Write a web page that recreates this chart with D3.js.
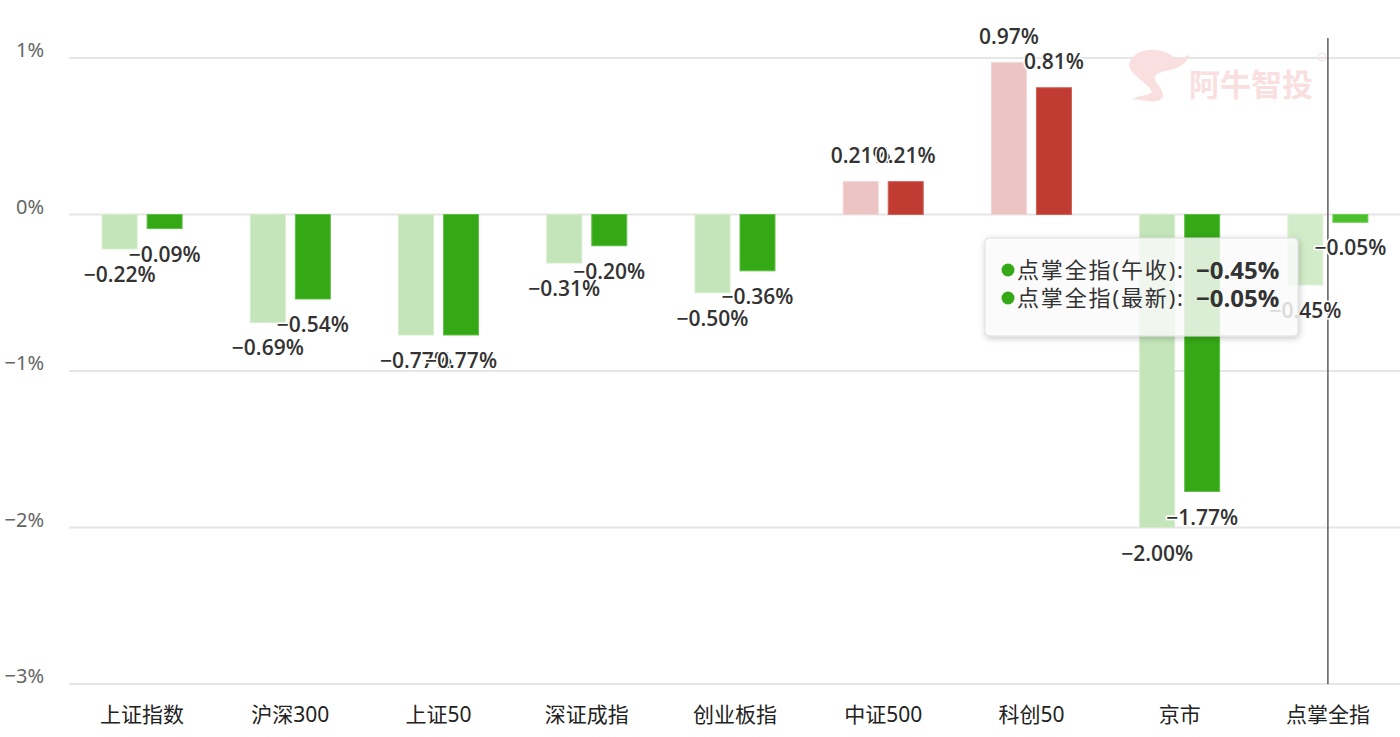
<!DOCTYPE html>
<html><head><meta charset="utf-8">
<script src="https://cdn.jsdelivr.net/npm/d3@7"></script>
<style>
html,body{margin:0;padding:0;background:#fff;}
svg{display:block;}
</style></head>
<body>
<svg id="chart" width="1400" height="737"></svg>
<script>
const categories = ["上证指数","沪深300","上证50","深证成指","创业板指","中证500","科创50","京市","点掌全指"];
const seriesNames = ["点掌全指(午收)","点掌全指(最新)"];
const noonValues = [-0.22,-0.69,-0.77,-0.31,-0.50,0.21,0.97,-2.00,-0.45];
const latestValues = [-0.09,-0.54,-0.77,-0.20,-0.36,0.21,0.81,-1.77,-0.05];
const yTicks = [1,0,-1,-2,-3];
const hoverIndex = 8;

const svg = d3.select("#chart");
const W = 1400, H = 737;
const plot = {left:68, right:1402, top:58, bottom:684};

const x = d3.scaleBand().domain(categories).range([plot.left, plot.right]);
const xs = d3.scaleBand().domain([0,1]).range([-40,40]).paddingInner(10/45).paddingOuter(0);
const y = d3.scaleLinear().domain([-3,1]).range([plot.bottom, plot.top]);

const font = "'Noto Sans','Noto Sans CJK SC',sans-serif";
const labelFont = "'Open Sans','Noto Sans',sans-serif";

// grid
const gridG = svg.append("g");
gridG.selectAll("line").data(yTicks).join("line")
  .attr("x1", 69).attr("x2", W)
  .attr("y1", d=>y(d)).attr("y2", d=>y(d))
  .attr("stroke", "#e6e6e6").attr("stroke-width", 2);

// y axis labels via d3 axis
const yAxis = d3.axisLeft(y).tickValues(yTicks).tickSize(0).tickPadding(0).tickFormat(d=>(d<0?"\u2212":"")+Math.abs(d)+"%");
const yg = svg.append("g").attr("transform","translate(44,0)").call(yAxis);
yg.select(".domain").remove();
yg.selectAll("text").attr("font-family", font).attr("font-size", 20).attr("fill","#666").attr("dy","-0.06em");

// watermark
const wmc = "#f9dfdf";
const wm = svg.append("g").attr("fill",wmc);
wm.append("path").attr("d","M1130,62 C1135,48 1160,46 1172,56 C1178,60 1186,58 1190,54 C1188,62 1180,68 1170,70 C1160,72 1152,74 1156,82 C1162,90 1166,96 1160,100 C1150,104 1140,98 1132,100 C1140,94 1150,96 1152,92 C1150,86 1140,80 1134,74 C1130,70 1128,66 1130,62 Z");
wm.append("text").attr("x",1189).attr("y",96).attr("font-family",font).attr("font-weight","bold").attr("font-size",31).text("阿牛智投");
wm.append("circle").attr("cx",1322).attr("cy",57).attr("r",4).attr("fill","none").attr("stroke",wmc).attr("stroke-width",1);

// bars
const colorSets = {
  neg:[{fill:"#c4e5b9",stroke:"#d4edcb"},{fill:"#34a915",stroke:"#62c04a"}],
  pos:[{fill:"#ecc4c3",stroke:"#f2d4d3"},{fill:"#c03b31",stroke:"#d0625a"}],
  hover:[{fill:"#d2ecc9",stroke:"#ddf1d6"},{fill:"#4cbf2c",stroke:"#6fcf55"}]
};
const allSeries = [noonValues, latestValues];
const barsG = svg.append("g");
allSeries.forEach((vals, si)=>{
  barsG.append("g").selectAll("rect").data(vals.map((v,i)=>({v,i}))).join("rect")
    .attr("x", d=>x(categories[d.i]) + x.bandwidth()/2 + xs(si))
    .attr("width", xs.bandwidth())
    .attr("y", d=>Math.min(y(d.v), y(0)))
    .attr("height", d=>Math.abs(y(d.v)-y(0)))
    .attr("fill", d=>(d.i===hoverIndex?colorSets.hover:(d.v>=0?colorSets.pos:colorSets.neg))[si].fill)
    .attr("stroke", d=>(d.i===hoverIndex?colorSets.hover:(d.v>=0?colorSets.pos:colorSets.neg))[si].stroke)
    .attr("stroke-width", 1);
});

// hover line
const hx = x(categories[hoverIndex])+x.bandwidth()/2;
svg.append("line")
  .attr("x1", hx).attr("x2", hx)
  .attr("y1", 38).attr("y2", plot.bottom)
  .attr("stroke","#666").attr("stroke-width",1.6);

// labels
const fmt = v => (v<0?"\u2212":"") + Math.abs(v).toFixed(2) + "%";
allSeries.forEach((vals, si)=>{
  svg.append("g").selectAll("text").data(vals.map((v,i)=>({v,i}))).join("text")
    .attr("x", d=>x(categories[d.i]) + x.bandwidth()/2 + xs(si) + xs.bandwidth()/2)
    .attr("y", d=>y(d.v) + (d.v>=0 ? -27 : 25))
    .attr("text-anchor","middle").attr("dominant-baseline","central")
    .attr("font-family", labelFont).attr("font-size", 21).attr("font-weight", 600)
    .attr("fill","#333").attr("stroke","#fff").attr("stroke-width",3).attr("paint-order","stroke")
    .text(d=>fmt(d.v));
});

// x axis labels
const xAxis = d3.axisBottom(x).tickSize(0).tickPadding(0);
const xg = svg.append("g").attr("transform",`translate(0,${715})`).call(xAxis);
xg.select(".domain").remove();
xg.selectAll("text").attr("font-family", font).attr("font-size", 21).attr("fill","#222").attr("dy","0.32em").attr("y",0);

// tooltip
const tt = svg.append("g");
const defs = svg.append("defs");
const f = defs.append("filter").attr("id","sh").attr("x","-10%").attr("y","-20%").attr("width","120%").attr("height","150%");
f.append("feDropShadow").attr("dx",1).attr("dy",2).attr("stdDeviation",3).attr("flood-color","#000").attr("flood-opacity",0.25);
tt.append("rect").attr("x",985).attr("y",238).attr("width",313).attr("height",98).attr("rx",4)
  .attr("fill","rgba(255,255,255,0.8)").attr("stroke","#ddd").attr("stroke-width",1).attr("filter","url(#sh)");
const ttVals = [noonValues[hoverIndex], latestValues[hoverIndex]];
seriesNames.forEach((n, k)=>{
  const cy = 269 + k*28;
  tt.append("circle").attr("cx",1008).attr("cy",cy+1).attr("r",6.5).attr("fill","#34a915");
  tt.append("text").attr("x",1017).attr("y",cy).attr("dominant-baseline","central")
    .attr("font-family",font).attr("font-size",22).attr("fill","#333")
    .attr("textLength",166).attr("lengthAdjust","spacing")
    .text(n + ":");
  tt.append("text").attr("x",1196).attr("y",cy).attr("dominant-baseline","central")
    .attr("font-family",labelFont).attr("font-size",24).attr("font-weight","bold").attr("fill","#333")
    .text(fmt(ttVals[k]));
});
</script>
</body></html>
